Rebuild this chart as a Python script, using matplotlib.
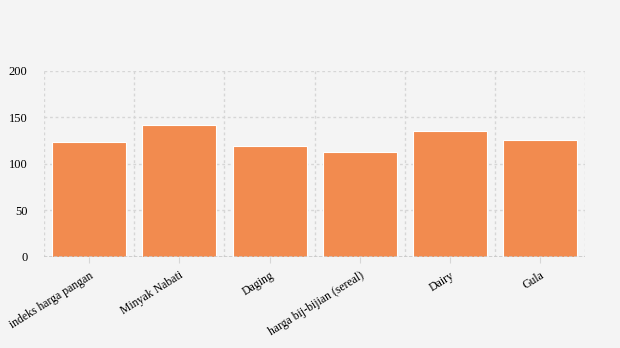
import matplotlib.pyplot as plt
import numpy as np

categories = ["indeks harga pangan", "Minyak Nabati", "Daging",
              "harga bij-bijian (sereal)", "Dairy", "Gula"]
values = [124, 142, 119.5, 113, 135.5, 126]
y_ticks = [0, 50, 100, 150, 200]

plt.rcParams["font.family"] = ["Liberation Serif", "DejaVu Serif"]

fig = plt.figure(figsize=(6.2, 3.48), dpi=100, facecolor="#f4f4f4")
ax = fig.add_axes([0.071, 0.2615, 0.873, 0.5345])
ax.set_facecolor("#f4f4f4")

x = np.arange(len(categories))
ax.bar(x, values, width=0.82, color="#f28b4f", edgecolor="white", linewidth=0.8, zorder=3)

ax.set_xlim(-0.5, len(categories) - 0.5)
ax.set_ylim(0, 200)
ax.set_yticks(y_ticks)
ax.set_xticks(x)
ax.set_xticklabels(categories, rotation=32, ha="right", rotation_mode="anchor", fontsize=8.5)
ax.set_xticks(np.arange(len(categories) + 1) - 0.5, minor=True)

for s in ax.spines.values():
    s.set_visible(False)
ax.grid(axis="y", which="major", color="#d6d6d6", linestyle=(0, (2, 2)), linewidth=1, zorder=0)
ax.grid(axis="x", which="minor", color="#d6d6d6", linestyle=(0, (2, 2)), linewidth=1, zorder=0)
ax.axhline(0, color="#c8c8c8", linestyle=(0, (2, 1)), linewidth=1.2, zorder=4)
ax.tick_params(axis="y", length=0, labelsize=9, pad=12)
ax.tick_params(axis="x", which="major", length=4, color="#d6d6d6", labelsize=8.5, pad=5)
ax.tick_params(axis="x", which="minor", length=0)

fig.savefig("out.png", dpi=100, facecolor=fig.get_facecolor())
